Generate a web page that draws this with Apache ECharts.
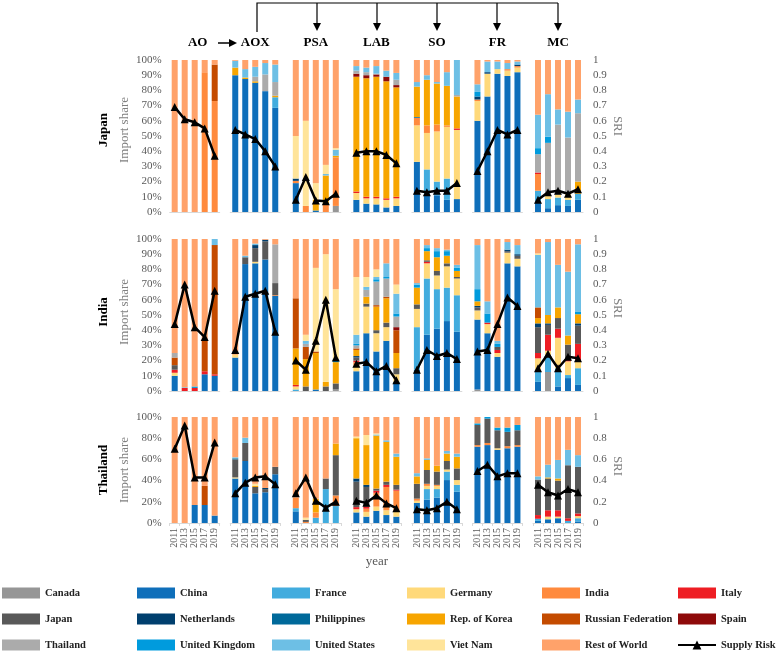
<!DOCTYPE html>
<html>
<head>
<meta charset="utf-8">
<script src="https://cdn.jsdelivr.net/npm/echarts/dist/echarts.min.js"></script>
<style>
html,body{margin:0;padding:0;background:#fff}
#main{width:782px;height:652px}
</style>
</head>
<body>
<div id="main"></div>
<script>
// 年份、产品、国家
var years = ['2011', '2013', '2015', '2017', '2019'];
var products = ['AO', 'AOX', 'PSA', 'LAB', 'SO', 'FR', 'MC'];
var rowNames = ['Japan', 'India', 'Thailand'];
var countries = ['Canada', 'China', 'France', 'Germany', 'India', 'Italy', 'Japan', 'Netherlands',
    'Philippines', 'Rep. of Korea', 'Russian Federation', 'Spain', 'Thailand', 'United Kingdom',
    'United States', 'Viet Nam', 'Rest of World'];
var codes = ['CAN', 'CHN', 'FRA', 'DEU', 'IND', 'ITA', 'JPN', 'NLD', 'PHL', 'KOR', 'RUS', 'ESP',
    'THA', 'GBR', 'USA', 'VNM', 'ROW'];
var colors = ['#969696', '#0f6fba', '#42acde', '#ffd97a', '#ff8a3d', '#ee1d23', '#595959', '#003f6e',
    '#00699a', '#f7a500', '#c44b00', '#8e0a0a', '#ababab', '#009bdd', '#6dbfe5', '#ffe49a', '#ffa26a'];

// Japan 进口份额 (%)
var jpAO = { IND: [0, 0, 0, 92, 73], RUS: [0, 0, 0, 0, 24], ROW: [100, 100, 100, 8, 3] };
var jpAOX = { CHN: [90, 87.5, 85, 79.5, 68.5], FRA: [0, 0, 0, 0, 7], KOR: [5, 1, 1, 0, 1],
    THA: [0, 0, 3, 11, 9], USA: [4.5, 5.5, 6.5, 7.5, 11.5], ROW: [0.5, 6, 4.5, 2, 3] };
var jpPSA = { CAN: [0, 0, 0, 0, 4], CHN: [19, 0, 1, 0, 0], IND: [1.5, 4, 0, 5, 32], NLD: [1.5, 0, 0, 0, 0],
    KOR: [0, 0, 7, 19, 1], USA: [0, 0, 0, 1, 4], VNM: [28, 56, 11, 6, 1], ROW: [50, 40, 81, 69, 58] };
var jpLAB = { CHN: [8, 5.5, 5, 3, 4], DEU: [4.5, 3.5, 4, 5, 5], ITA: [1, 1, 1, 1, 1],
    KOR: [75.5, 78, 79, 77, 72], ESP: [2, 2, 1.5, 3, 1.5], THA: [2, 2, 0.5, 0, 3.5],
    USA: [3, 3, 5, 4, 4.5], ROW: [4, 5, 4, 7, 8.5] };
var jpSO = { CHN: [33, 11, 11, 8, 8.5], FRA: [0, 17, 9, 14, 0], DEU: [24, 24, 33, 34, 45.5],
    IND: [5, 5, 4.5, 1, 0], ITA: [0, 0, 0, 0, 1], PHL: [0.5, 0, 0, 0, 0], KOR: [20, 30, 27, 26, 21],
    THA: [0, 0, 0, 0, 1], USA: [3, 3, 1, 9, 23], ROW: [14.5, 10, 14.5, 8, 0] };
var jpFR = { CHN: [60, 76, 91, 89.5, 92], DEU: [13, 15, 3, 3.5, 3], IND: [1, 0, 0, 1, 1],
    NLD: [2, 1, 0, 0, 1], GBR: [3, 0, 0, 0, 0], USA: [5, 7, 5, 4, 2], ROW: [16, 1, 1, 2, 1] };
var jpMC = { CHN: [7, 2.5, 4.5, 4, 8], FRA: [7, 6, 5, 4, 4], DEU: [0, 2, 2, 4, 0], IND: [11, 0, 0, 0, 0],
    ITA: [1, 0, 0, 0, 0], KOR: [0, 0, 0, 0, 8], THA: [12, 35, 46, 37, 45], GBR: [4, 4, 0, 0, 0],
    USA: [22, 28, 10, 17, 9], ROW: [36, 22.5, 32.5, 34, 26] };
var sriJapan = [
    [0.69, 0.61, 0.59, 0.55, 0.37],
    [0.54, 0.51, 0.48, 0.40, 0.30],
    [0.08, 0.23, 0.075, 0.07, 0.12],
    [0.39, 0.40, 0.40, 0.375, 0.32],
    [0.14, 0.13, 0.14, 0.14, 0.19],
    [0.27, 0.40, 0.54, 0.51, 0.54],
    [0.08, 0.13, 0.14, 0.12, 0.15]
];

// India
var inAO = { CHN: [10, 0, 0, 11, 10], DEU: [2, 0, 0, 0, 0], ITA: [2, 2, 2, 2, 1], JPN: [3, 0, 0, 0, 0],
    RUS: [5, 0, 0, 21, 85], THA: [3, 0, 0, 0, 0], GBR: [0, 0, 1, 0, 0], USA: [0, 0.5, 0, 0, 4],
    ROW: [75, 97.5, 97, 66, 0] };
var inAOX = { CHN: [22, 83.5, 84, 86.5, 62.5], DEU: [2, 0, 1, 0, 0], IND: [1, 0, 0, 0, 0.5],
    JPN: [0, 4.5, 9, 12, 8], NLD: [0, 0, 2, 1, 0], THA: [0, 0, 0, 0, 25.5], GBR: [1, 0, 0, 0, 0],
    USA: [0, 1, 1, 0, 0], ROW: [74, 11, 3, 0.5, 3.5] };
var inPSA = { CAN: [0, 0, 0, 0, 1], CHN: [0, 0, 1, 0, 0], FRA: [1, 0, 0, 0, 0], DEU: [2, 0, 0, 0, 0],
    ITA: [1, 0, 0, 0, 0], JPN: [0, 3, 0, 3, 4], KOR: [24, 18, 24, 3, 14], RUS: [33, 8, 1, 0, 0],
    THA: [0, 2, 0, 0, 0], GBR: [0, 0, 0, 0, 1], USA: [0, 2, 0, 0, 1], VNM: [0, 4, 55, 84, 46],
    ROW: [39, 63, 19, 10, 33] };
var inLAB = { CHN: [13, 38, 26, 33, 6], DEU: [4, 17.5, 12, 9, 5], IND: [2, 0, 0, 0, 0], ITA: [1, 0, 0, 0, 0],
    JPN: [2, 2, 2, 3, 4], NLD: [1, 0, 0, 0, 0], KOR: [4, 4.5, 15.5, 16, 10], RUS: [1, 0, 1, 1, 15],
    ESP: [0, 0, 0, 0, 2], THA: [2, 4.5, 15.5, 12, 7], GBR: [1, 0, 1.5, 1, 2], USA: [6, 2, 1.5, 9, 13],
    VNM: [38, 6.5, 5, 0, 6], ROW: [25, 25, 20, 16, 30] };
var inSO = { CHN: [14, 37, 41, 46, 39], FRA: [28, 37, 26, 22, 24], DEU: [12, 10, 9, 14, 11],
    ITA: [0, 1, 0, 0, 0], JPN: [3, 1, 3, 2, 1], KOR: [11, 6, 9, 5, 4], GBR: [2, 2, 4, 3, 2],
    USA: [1, 2, 2, 1, 2], ROW: [29, 4, 6, 7, 17] };
var inFR = { CAN: [1, 0, 0, 0, 0], CHN: [46, 38, 22.5, 84, 82], DEU: [6, 6, 2.5, 7, 5], ITA: [0, 1, 2, 0, 0],
    JPN: [2, 0, 2, 1, 2], NLD: [1, 0, 0, 1, 1], KOR: [3, 0, 0, 0, 0], GBR: [8, 6, 2, 0, 0],
    USA: [29, 8, 2, 5, 6], ROW: [4, 41, 67, 2, 4] };
var inMC = { CAN: [0, 12.5, 0, 0, 0], CHN: [6, 0, 3, 8.5, 4], FRA: [8, 11, 12, 2, 11], DEU: [7.5, 3, 20, 9, 5],
    ITA: [3.5, 10.5, 6, 1, 11], JPN: [17, 6.5, 7, 10, 12], NLD: [2.5, 1, 0, 0, 1.5], KOR: [3.5, 5.5, 7, 6, 6],
    RUS: [7, 0, 0, 0, 0], GBR: [0, 0, 0, 0, 1.5], USA: [34.5, 48, 28, 42, 44.5], VNM: [1, 0, 0, 0, 0],
    ROW: [9.5, 2, 17, 21.5, 3.5] };
var sriIndia = [
    [0.44, 0.70, 0.42, 0.355, 0.66],
    [0.27, 0.62, 0.64, 0.66, 0.39],
    [0.20, 0.14, 0.33, 0.60, 0.22],
    [0.18, 0.19, 0.13, 0.165, 0.07],
    [0.14, 0.27, 0.23, 0.25, 0.21],
    [0.26, 0.27, 0.44, 0.615, 0.56],
    [0.15, 0.245, 0.15, 0.225, 0.215]
];

// Thailand
var thAO = { CHN: [0, 0, 17, 17, 7], RUS: [0, 0, 0, 18, 0], ROW: [100, 100, 83, 65, 93] };
var thAOX = { CHN: [42, 58.5, 28, 29, 46], DEU: [1, 0, 0, 0, 0], JPN: [17, 17, 6, 3, 7], NLD: [0, 0, 0, 1, 0],
    PHL: [1, 0, 0, 0, 0], KOR: [0, 0, 1, 0, 0], USA: [1, 5, 0, 0, 0], VNM: [0, 0, 2, 0, 0],
    ROW: [38, 19.5, 63, 67, 47] };
var thPSA = { CHN: [11, 0, 0, 0, 0], FRA: [3, 0, 5, 32, 16], IND: [10, 1, 5, 0, 10], JPN: [0, 2, 0, 10, 38],
    KOR: [0, 0, 13, 0, 11], VNM: [0, 2, 0, 0, 0], ROW: [76, 95, 77, 58, 25] };
var thLAB = { CHN: [10, 6, 11.5, 7.5, 6], DEU: [3, 4.5, 4, 4.5, 4.5], IND: [0, 3, 13, 22, 20],
    ITA: [2, 2, 2, 2, 1], JPN: [24, 18.5, 2, 3, 4.5], NLD: [3, 2, 0, 0, 0], KOR: [38, 37.5, 50, 37.5, 26.5],
    USA: [0, 0, 1, 1.5, 3], VNM: [1.5, 9.5, 1, 0, 0], ROW: [18.5, 17, 15.5, 22, 34.5] };
var thSO = { CHN: [19, 22, 24, 40.5, 29.5], FRA: [0, 10, 8, 8, 6.5], DEU: [2, 3, 3, 2, 4.5], IND: [2, 2, 1, 0, 0],
    JPN: [14, 13, 12.5, 8, 11], KOR: [7, 9.5, 5.5, 7, 11], USA: [3, 1.5, 0, 2.5, 3],
    ROW: [53, 39, 46, 32, 34.5] };
var thFR = { CHN: [72, 73.5, 69, 70.5, 72], DEU: [0, 0, 1.5, 0, 0], IND: [1.5, 2, 0, 2, 1.5],
    JPN: [19, 23, 17, 13.5, 14], GBR: [1.5, 1.5, 2.5, 4, 5], ROW: [6, 0, 10, 10, 7.5] };
var thMC = { CHN: [2, 3.5, 4.5, 0, 1.5], FRA: [2, 0, 0, 2, 3], DEU: [0, 2.5, 1.5, 0, 2], ITA: [3.5, 6, 6, 2.5, 2.5],
    JPN: [33.5, 30, 28, 50, 44], KOR: [0, 1, 2, 0, 0], USA: [3, 12, 17.5, 14.5, 11],
    ROW: [56, 45, 40.5, 31, 36] };
var sriThailand = [
    [0.70, 0.92, 0.43, 0.43, 0.76],
    [0.28, 0.38, 0.43, 0.44, 0.365],
    [0.28, 0.43, 0.21, 0.145, 0.20],
    [0.21, 0.19, 0.26, 0.185, 0.14],
    [0.13, 0.12, 0.14, 0.20, 0.13],
    [0.49, 0.55, 0.44, 0.47, 0.47],
    [0.36, 0.29, 0.26, 0.32, 0.29]
];

var panels = [
    [jpAO, jpAOX, jpPSA, jpLAB, jpSO, jpFR, jpMC],
    [inAO, inAOX, inPSA, inLAB, inSO, inFR, inMC],
    [thAO, thAOX, thPSA, thLAB, thSO, thFR, thMC]
];
var sris = [sriJapan, sriIndia, sriThailand];

var FONT = 'Liberation Serif';
var L0 = 169.7, DX = 60.55, PW = 50;
var rowLayout = [
    { top: 60, h: 152, step: 10, mid: 130 },
    { top: 239, h: 152, step: 10, mid: 312 },
    { top: 417, h: 106, step: 20, mid: 470 }
];

var grids = [], xAxes = [], yAxes = [], series = [];
for (var r = 0; r < 3; r++) {
    for (var p = 0; p < 7; p++) {
        var g = r * 7 + p;
        var lay = rowLayout[r];
        grids.push({ left: L0 + DX * p, top: lay.top, width: PW, height: lay.h });
        xAxes.push({
            type: 'category', gridIndex: g, data: years,
            axisLine: { lineStyle: { color: '#d9d9d9' } },
            axisTick: { show: r === 2, length: 3, lineStyle: { color: '#d9d9d9' } },
            axisLabel: { show: r === 2, rotate: 90, interval: 0, margin: 5,
                fontFamily: FONT, fontSize: 10, color: '#595959' }
        });
        yAxes.push({
            type: 'value', gridIndex: g, min: 0, max: 100, interval: lay.step,
            splitLine: { show: false }, axisLine: { show: false }, axisTick: { show: false },
            axisLabel: { show: p === 0, formatter: '{value}%', margin: 8,
                fontFamily: FONT, fontSize: 11, color: '#595959' }
        });
        yAxes.push({
            type: 'value', gridIndex: g, min: 0, max: 1, interval: lay.step / 100, position: 'right',
            splitLine: { show: false }, axisLine: { show: false }, axisTick: { show: false },
            axisLabel: { show: p === 6, margin: 10, fontFamily: FONT, fontSize: 11, color: '#595959',
                formatter: function (v) { return String(+v.toFixed(1)); } }
        });
        var panel = panels[r][p];
        for (var k = 0; k < codes.length; k++) {
            series.push({
                type: 'bar', name: countries[k], xAxisIndex: g, yAxisIndex: 2 * g,
                stack: 'g' + g, barWidth: 6, data: panel[codes[k]] || [0, 0, 0, 0, 0],
                itemStyle: { color: colors[k] }
            });
        }
        series.push({
            type: 'line', name: 'Supply Risk', xAxisIndex: g, yAxisIndex: 2 * g + 1,
            data: sris[r][p], symbol: 'triangle', symbolSize: 8, showSymbol: true, showAllSymbol: true,
            z: 10, itemStyle: { color: '#000' }, lineStyle: { color: '#000', width: 2.5 }
        });
    }
}

// 图例: 6 列 x 3 行
var legendNames = countries.concat(['Supply Risk']);
var legends = [];
for (var c = 0; c < 6; c++) {
    var items = [];
    for (var j = 0; j < 3; j++) {
        var nm = legendNames[c + j * 6];
        items.push(nm === 'Supply Risk' ? { name: nm } : { name: nm, icon: 'rect' });
    }
    legends.push({
        orient: 'vertical', left: 2 + 135 * c, top: 587, padding: 0,
        itemWidth: 38, itemHeight: 11, itemGap: 14, selectedMode: false,
        data: items,
        textStyle: { fontFamily: FONT, fontWeight: 'bold', fontSize: 10.5, color: '#222', lineHeight: 12 }
    });
}

// 标题、箭头、行标签
var graphics = [];
for (var p2 = 0; p2 < 7; p2++) {
    graphics.push({ type: 'text', x: L0 + DX * p2 + PW / 2 + (p2 === 0 ? 3 : 0), y: 43,
        style: { text: products[p2], font: 'bold 13px "' + FONT + '"', fill: '#000', align: 'center', verticalAlign: 'middle' } });
}
graphics.push({ type: 'line', shape: { x1: 218, y1: 43, x2: 230, y2: 43 }, style: { stroke: '#000', lineWidth: 1.5 } });
graphics.push({ type: 'polygon', shape: { points: [[237, 43], [229, 39], [229, 47]] }, style: { fill: '#000' } });
graphics.push({ type: 'polyline', shape: { points: [[257, 32], [257, 3], [558, 3]] }, style: { stroke: '#000', lineWidth: 1.2, fill: null } });
[317, 377, 437, 497, 558].forEach(function (ax) {
    graphics.push({ type: 'line', shape: { x1: ax, y1: 3, x2: ax, y2: 24 }, style: { stroke: '#000', lineWidth: 1.2 } });
    graphics.push({ type: 'polygon', shape: { points: [[ax, 31], [ax - 4, 23], [ax + 4, 23]] }, style: { fill: '#000' } });
});
for (var r2 = 0; r2 < 3; r2++) {
    var my = rowLayout[r2].mid;
    graphics.push({ type: 'text', x: 104, y: my, rotation: Math.PI / 2,
        style: { text: rowNames[r2], font: 'bold 13px "' + FONT + '"', fill: '#000', align: 'center', verticalAlign: 'middle' } });
    graphics.push({ type: 'text', x: 125, y: my, rotation: Math.PI / 2,
        style: { text: 'Import share', font: '13px "' + FONT + '"', fill: '#7f7f7f', align: 'center', verticalAlign: 'middle' } });
    graphics.push({ type: 'text', x: 617, y: my - 4, rotation: -Math.PI / 2,
        style: { text: 'SRI', font: '13px "' + FONT + '"', fill: '#7f7f7f', align: 'center', verticalAlign: 'middle' } });
}
graphics.push({ type: 'text', x: 377, y: 562,
    style: { text: 'year', font: '13px "' + FONT + '"', fill: '#595959', align: 'center', verticalAlign: 'middle' } });

var myChart = echarts.init(document.getElementById('main'));
myChart.setOption({
    animation: false,
    backgroundColor: '#fff',
    grid: grids,
    xAxis: xAxes,
    yAxis: yAxes,
    legend: legends,
    graphic: graphics,
    series: series
});
</script>
</body>
</html>
